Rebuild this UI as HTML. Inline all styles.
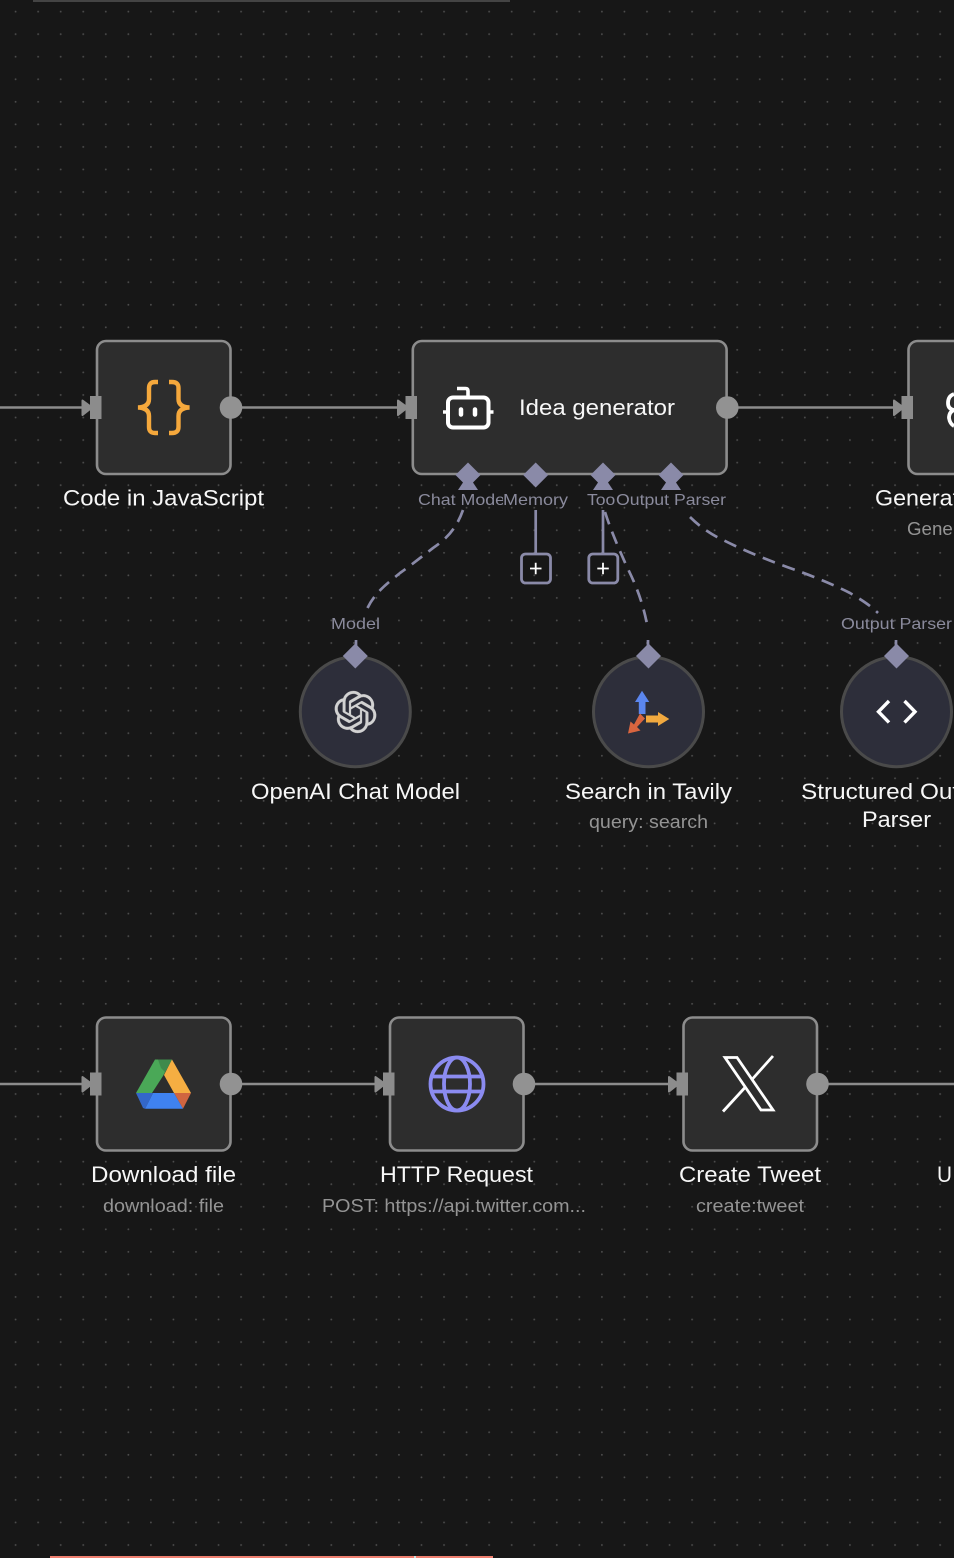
<!DOCTYPE html>
<html><head><meta charset="utf-8"><style>
html,body{margin:0;padding:0;background:#171717;width:954px;height:1558px;overflow:hidden}
svg{display:block}
text{font-family:"Liberation Sans",sans-serif}
.t{font-size:22px;fill:#f7f7f7}
.s{font-size:18px;fill:#949494}
.l{font-size:16px;fill:#8a8a9c}
.n{fill:#2d2d2d;stroke:#8c8c8c;stroke-width:2.6}
.c{fill:#2d2e3a;stroke:#4a4a4a;stroke-width:3}
.w{stroke:#8c8c8c;stroke-width:2.5;fill:none}
.d{stroke:#8a8aa8;stroke-width:2.7;fill:none;stroke-dasharray:13 8}
.v{stroke:#8a8aa8;stroke-width:2.7;fill:none}
.b{fill:none;stroke:#8a8aa8;stroke-width:2.8}
.p{stroke:#fff;stroke-width:1.8}
.br{fill:none;stroke:#f5a83c;stroke-width:4.4}
</style></head><body>
<svg width="954" height="1558" viewBox="0 0 954 1558" xmlns="http://www.w3.org/2000/svg">
<defs>
<pattern id="dots" patternUnits="userSpaceOnUse" width="22.55" height="22.55"><circle cx="15.6" cy="11.6" r="0.9" fill="#4e4e4e"/></pattern>
<clipPath id="c1"><rect x="410" y="485" width="93" height="30"/></clipPath>
<clipPath id="c2"><rect x="580" y="485" width="36" height="30"/></clipPath>
<g id="inp"><polygon points="82.5,400.500 92,407.500 82.500,415" fill="#8c8c8c" stroke="#8c8c8c" stroke-width="2" stroke-linejoin="round"/><rect x="90" y="396" width="11.500" height="23" fill="#8c8c8c"/></g>
<polygon id="dia" points="0,-12.500 12.500,0 0,12.500 -12.500,0" fill="#8a8aa8"/>
<polygon id="tia" points="-4,6 4,6 10,15 -10,15" fill="#8a8aa8"/>
</defs>
<rect width="954" height="1558" fill="#171717"/>
<rect width="954" height="1558" fill="url(#dots)"/>
<rect x="33" y="0" width="477" height="2" fill="#444"/>
<rect x="50" y="1556" width="443" height="2" fill="#f08070"/>
<rect x="414" y="1556" width="2" height="2" fill="#cfe0e0"/>

<!-- connectors -->
<path class="w" d="M0 407.500H84M240 407.500H398M736 407.500H895"/>
<path class="w" d="M0 1084H84M240 1084H376M533 1084H669M826 1084H954"/>
<path class="d" d="M463 510C456 530 445 540 433 548C420 558 410 566 400 573C388 583 375 592 367 609"/>
<path class="v" d="M356 640V648M648 640V648M896 640V648"/>
<path class="d" d="M605 512C610 528 618 547 627 567C636 585 644 605 648 630"/>
<path class="d" d="M690 517C700 527 712 535 723 540C745 551 765 559 787 567C810 575 830 583 850 593C860 599 870 605 878 613"/>

<!-- row 1 -->
<rect class="n" x="97" y="341" width="133.500" height="133" rx="9"/>
<use href="#inp"/>
<circle cx="231" cy="407.500" r="11.300" fill="#929292"/>
<path class="br" d="M158 382H155Q149 382 149 388V399Q149 407 138 407.500Q149 408 149 416V427Q149 433 155 433H158"/>
<path class="br" d="M169 382H172Q178.500 382 178.500 388V399Q178.500 407 189.500 407.500Q178.500 408 178.500 416V427Q178.500 433 172 433H169"/>
<text class="t" x="63" y="505.500" textLength="201" lengthAdjust="spacingAndGlyphs">Code in JavaScript</text>

<rect class="n" x="412.800" y="341" width="313.800" height="133" rx="9"/>
<use href="#inp" x="315.500"/>
<circle cx="727.300" cy="407.500" r="11.300" fill="#929292"/>
<rect x="448" y="397.500" width="40.500" height="30" rx="5" fill="none" stroke="#fff" stroke-width="4"/>
<path d="M468 397V391Q468 388.500 465.500 388.500H457M443 412H448M488.500 412H493.500" fill="none" stroke="#fff" stroke-width="3.600"/>
<path d="M461 409.500V414.500M475 409.500V414.500" fill="none" stroke="#fff" stroke-width="4.500" stroke-linecap="round"/>
<text class="t" x="519" y="415" textLength="156" lengthAdjust="spacingAndGlyphs">Idea generator</text>

<g transform="translate(468,475)"><use href="#tia"/><use href="#dia"/></g>
<g transform="translate(535.700,475)"><use href="#dia"/></g>
<g transform="translate(603,475)"><use href="#tia"/><use href="#dia"/></g>
<g transform="translate(671,475)"><use href="#tia"/><use href="#dia"/></g>
<path class="v" d="M535.700 510V553M603 510V553"/>
<text class="l" x="418" y="505" textLength="91" lengthAdjust="spacingAndGlyphs" clip-path="url(#c1)">Chat Model</text>
<text class="l" x="503" y="505" textLength="65" lengthAdjust="spacingAndGlyphs">Memory</text>
<text class="l" x="587" y="505" textLength="41" lengthAdjust="spacingAndGlyphs" clip-path="url(#c2)">Tools</text>
<text class="l" x="616" y="505" textLength="110" lengthAdjust="spacingAndGlyphs">Output Parser</text>

<rect class="b" x="521.500" y="554" width="29" height="29" rx="4"/>
<rect class="b" x="588.800" y="554" width="29" height="29" rx="4"/>
<path class="p" d="M530 568.500H541.500M535.700 562.700V574.300M597.300 568.500H608.800M603 562.700V574.300"/>

<rect class="n" x="908.500" y="341" width="60" height="133" rx="9"/>
<use href="#inp" x="811.500"/>
<path d="M954 394Q948 396 948 403Q948 409 954 410Q949 412 949 418Q950 424 954 426" fill="none" stroke="#fff" stroke-width="3.800"/>
<text class="t" x="875" y="505.500" textLength="97" lengthAdjust="spacingAndGlyphs">Generate</text>
<text class="s" x="907" y="535" textLength="78" lengthAdjust="spacingAndGlyphs">Generate</text>

<!-- sub nodes -->
<text class="l" x="331" y="629" textLength="49" lengthAdjust="spacingAndGlyphs">Model</text>
<text class="l" x="841" y="629" textLength="111" lengthAdjust="spacingAndGlyphs">Output Parser</text>

<circle class="c" cx="355.300" cy="711.700" r="55"/>
<g transform="translate(355.300,656)"><use href="#dia"/></g>
<path transform="translate(334.500,691) scale(1.75)" fill="#d2d2d2" stroke="#d2d2d2" stroke-width="0.15" d="M22.2819 9.8211a5.9847 5.9847 0 0 0-.5157-4.9108 6.0462 6.0462 0 0 0-6.5098-2.9A6.0651 6.0651 0 0 0 4.9807 4.1818a5.9847 5.9847 0 0 0-3.9977 2.9 6.0462 6.0462 0 0 0 .7427 7.0966 5.98 5.98 0 0 0 .511 4.9107 6.051 6.051 0 0 0 6.5146 2.9001A5.9847 5.9847 0 0 0 13.2599 24a6.0557 6.0557 0 0 0 5.7718-4.2058 5.9894 5.9894 0 0 0 3.9977-2.9001 6.0557 6.0557 0 0 0-.7475-7.0729zm-9.022 12.6081a4.4755 4.4755 0 0 1-2.8764-1.0408l.1419-.0804 4.7783-2.7582a.7948.7948 0 0 0 .3927-.6813v-6.7369l2.02 1.1686a.071.071 0 0 1 .038.052v5.5826a4.504 4.504 0 0 1-4.4945 4.4944zm-9.6607-4.1254a4.4708 4.4708 0 0 1-.5346-3.0137l.142.0852 4.783 2.7582a.7712.7712 0 0 0 .7806 0l5.8428-3.3685v2.3324a.0804.0804 0 0 1-.0332.0615L9.74 19.9502a4.4992 4.4992 0 0 1-6.1408-1.6464zM2.3408 7.8956a4.485 4.485 0 0 1 2.3655-1.9728V11.6a.7664.7664 0 0 0 .3879.6765l5.8144 3.3543-2.0201 1.1685a.0757.0757 0 0 1-.071 0l-4.8303-2.7865A4.504 4.504 0 0 1 2.3408 7.872zm16.5963 3.8558L13.1038 8.364 15.1192 7.2a.0757.0757 0 0 1 .071 0l4.8303 2.7913a4.4944 4.4944 0 0 1-.6765 8.1042v-5.6772a.79.79 0 0 0-.407-.667zm2.0107-3.0231l-.142-.0852-4.7735-2.7818a.7759.7759 0 0 0-.7854 0L9.409 9.2297V6.8974a.0662.0662 0 0 1 .0284-.0615l4.8303-2.7866a4.4992 4.4992 0 0 1 6.6802 4.66zM8.3065 12.863l-2.02-1.1638a.0804.0804 0 0 1-.038-.0567V6.0742a4.4992 4.4992 0 0 1 7.3757-3.4537l-.142.0805L8.704 5.459a.7948.7948 0 0 0-.3927.6813zm1.0976-2.3654l2.602-1.4998 2.6069 1.4998v2.9994l-2.5974 1.4997-2.6067-1.4997Z"/>
<text class="t" x="251" y="799" textLength="209" lengthAdjust="spacingAndGlyphs">OpenAI Chat Model</text>

<circle class="c" cx="648.500" cy="711.700" r="55"/>
<g transform="translate(648.500,656)"><use href="#dia"/></g>
<polygon points="642,690.700 649.300,702 645.500,702 645.500,714 638.800,714 638.800,702 635,702" fill="#5b86ee"/>
<polygon points="646,715.500 658,715.500 658,712 669.300,719 658,726 658,722.500 646,722.500" fill="#f1a93f"/>
<polygon points="640,713.500 645,718.500 637,727 640.500,730.500 628,733.500 630.500,721.500 634,724.500" fill="#d9653f"/>
<text class="t" x="565" y="799" textLength="167" lengthAdjust="spacingAndGlyphs">Search in Tavily</text>
<text class="s" x="589" y="828" textLength="119" lengthAdjust="spacingAndGlyphs">query: search</text>

<circle class="c" cx="896.500" cy="711.700" r="55"/>
<g transform="translate(896.500,656)"><use href="#dia"/></g>
<path d="M889 701L878.500 711.700L889 722.500M904.500 701L915 711.700L904.500 722.500" fill="none" stroke="#fff" stroke-width="3.400"/>
<text class="t" x="801" y="799" textLength="192" lengthAdjust="spacingAndGlyphs">Structured Output</text>
<text class="t" x="862" y="827" textLength="69" lengthAdjust="spacingAndGlyphs">Parser</text>

<!-- row 2 -->
<rect class="n" x="97" y="1017.500" width="133.500" height="133" rx="9"/>
<g transform="translate(0,676.500)"><use href="#inp"/></g>
<circle cx="231" cy="1084" r="11.300" fill="#929292"/>
<polygon points="155,1059.500 172,1059.500 163,1076 152,1093 136,1093" fill="#4aa857"/>
<polygon points="158,1059.500 172,1059.500 165,1072 161,1068" fill="#3f8a4c"/>
<polygon points="172,1059.500 191,1093 174,1093 164,1075" fill="#f5ae42"/>
<polygon points="174,1093 191,1093 183,1108.700" fill="#d06540"/>
<polygon points="153,1093 174,1093 183,1108.700 145,1108.700" fill="#3f82f0"/>
<polygon points="136,1093 153,1093 145,1108.700 143,1108" fill="#3367c9"/>
<text class="t" x="91" y="1182" textLength="145" lengthAdjust="spacingAndGlyphs">Download file</text>
<text class="s" x="103" y="1212" textLength="121" lengthAdjust="spacingAndGlyphs">download: file</text>

<rect class="n" x="390" y="1017.500" width="133.500" height="133" rx="9"/>
<g transform="translate(293,676.500)"><use href="#inp"/></g>
<circle cx="524" cy="1084" r="11.300" fill="#929292"/>
<g fill="none" stroke="#8b8bf0" stroke-width="3.800"><circle cx="457" cy="1084" r="26.500"/><ellipse cx="457" cy="1084" rx="13" ry="26.500"/><path d="M431 1076.500H483M431 1091.500H483"/></g>
<text class="t" x="380" y="1182" textLength="153" lengthAdjust="spacingAndGlyphs">HTTP Request</text>
<text class="s" x="322" y="1212" textLength="264" lengthAdjust="spacingAndGlyphs">POST: https://api.twitter.com...</text>

<rect class="n" x="683.500" y="1017.500" width="133.500" height="133" rx="9"/>
<g transform="translate(586.500,676.500)"><use href="#inp"/></g>
<circle cx="817.500" cy="1084" r="11.300" fill="#929292"/>
<polygon points="725,1057.500 737,1057.500 773,1110 761,1110" fill="none" stroke="#fff" stroke-width="2.800"/>
<path d="M773 1056L752 1079.500M745 1087.500L723 1111.500" stroke="#fff" stroke-width="2.800" fill="none"/>
<text class="t" x="679" y="1182" textLength="142" lengthAdjust="spacingAndGlyphs">Create Tweet</text>
<text class="s" x="696" y="1212" textLength="108" lengthAdjust="spacingAndGlyphs">create:tweet</text>
<text class="t" x="937" y="1182" textLength="15" lengthAdjust="spacingAndGlyphs">U</text>
</svg>
</body></html>
